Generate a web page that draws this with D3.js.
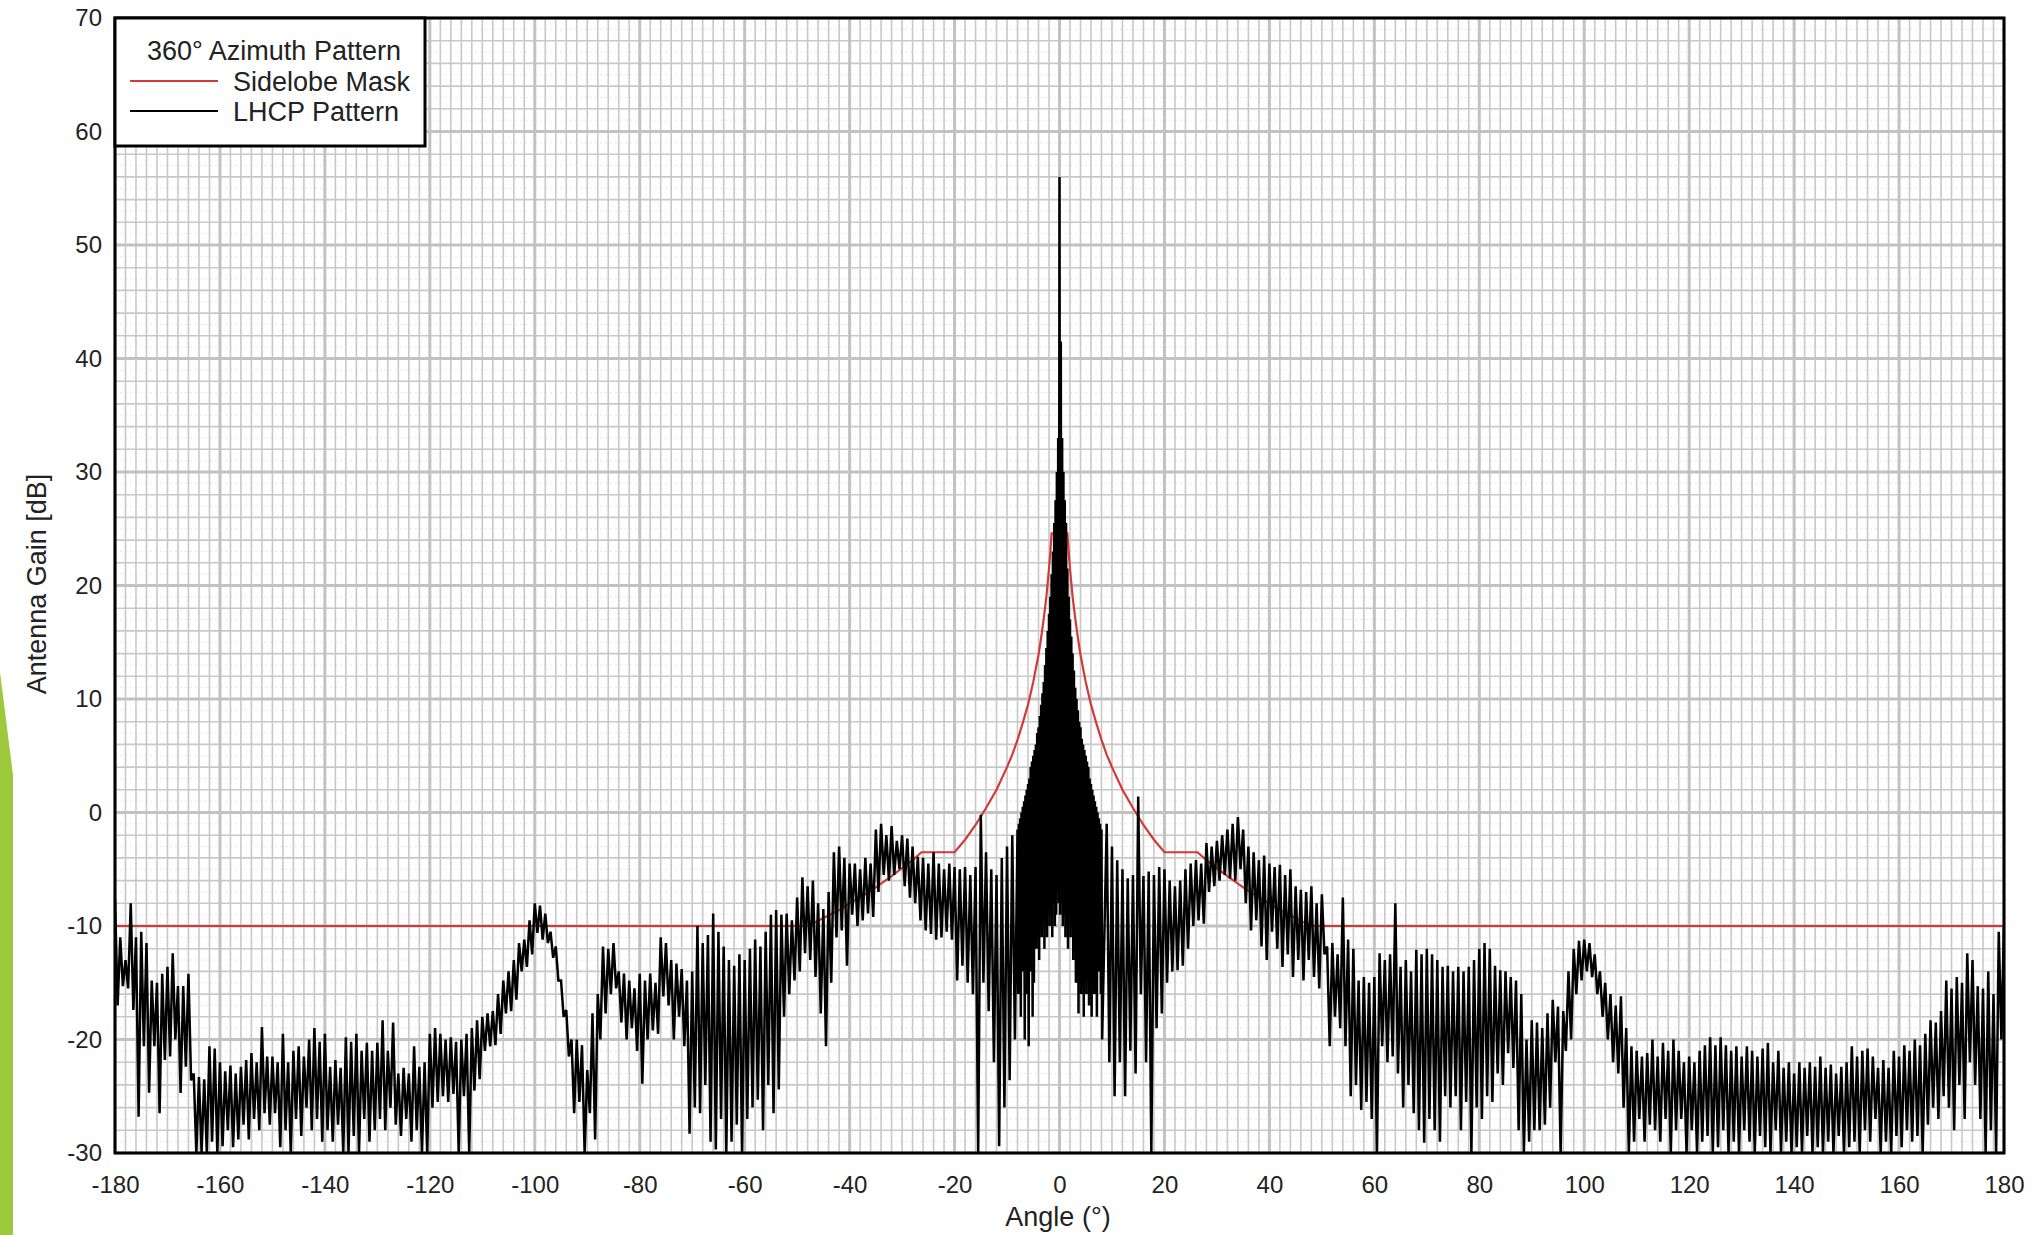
<!DOCTYPE html>
<html>
<head>
<meta charset="utf-8">
<script src="https://cdn.jsdelivr.net/npm/d3@7"></script>
<style>
  body { margin: 0; background: #fff; }
  svg { display: block; }
  text { font-family: "Liberation Sans", Arial, sans-serif; fill: #222; }
</style>
</head>
<body>
<script>
// axis ticks
const xTicks = d3.range(-180, 181, 20);
const yTicks = d3.range(-30, 71, 10);

// sidelobe mask
const maskAngle = [-180, -47.9, -45, -42, -40, -38, -35, -32, -30, -28, -26.3, -20, -18, -16, -14, -12, -10, -9, -8, -7, -6, -5, -4, -3.5, -3, -2.5, -2, -1.75, -1.5,
  1.5, 1.75, 2, 2.5, 3, 3.5, 4, 5, 6, 7, 8, 9, 10, 12, 14, 16, 18, 20, 26.3, 28, 30, 32, 35, 38, 40, 42, 45, 47.9, 180];
const maskGain = [-10, -10, -9.3, -8.6, -8.0, -7.5, -6.6, -5.6, -4.9, -4.2, -3.5, -3.5, -2.4, -1.1, 0.4, 2.0, 4.0, 5.1, 6.4, 7.9, 9.5, 11.5, 13.9, 15.4, 17.1, 19.0, 21.5, 22.9, 24.6,
  24.6, 22.9, 21.5, 19.0, 17.1, 15.4, 13.9, 11.5, 9.5, 7.9, 6.4, 5.1, 4.0, 2.0, 0.4, -1.1, -2.4, -3.5, -3.5, -4.2, -4.9, -5.6, -6.6, -7.5, -8.0, -8.6, -9.3, -10, -10];

// LHCP pattern: per 1 degree from -180 to 180, upper and lower extent of the trace
const lhcpStart = -180;
const lhcpHi = [
  -7.7, -11, -13, -8, -11, -10.5, -11.5, -14.8, -15, -14.2,
  -13.6, -12.4, -15.3, -15.3, -14.2, -23, -23.3, -23.5, -20.6, -20.8,
  -22, -22.8, -22.3, -23, -22.4, -21.8, -21.2, -22, -18.9, -21.5,
  -21.5, -22, -19.5, -22, -21, -20.6, -21.5, -20, -19, -20.2,
  -19.5, -22.4, -21.8, -22.5, -19.8, -20.2, -19.5, -21, -20.3, -21,
  -20.3, -18.3, -21, -18.5, -23, -22.5, -23, -20.6, -22.4, -22,
  -19.5, -19, -19.5, -20, -19.8, -20.2, -20, -19.5, -19, -18.3,
  -18, -17.7, -17.5, -16, -14.8, -14, -13, -11.5, -11.2, -9.5,
  -8, -8.2, -8.9, -10.5, -11.8, -14.8, -17.4, -20, -20, -20.5,
  -22.7, -17.7, -16, -11.8, -12, -11.5, -14, -14.2, -14.8, -15.5,
  -14.2, -14.8, -14.2, -15, -11, -11.5, -13, -13.3, -13.8, -14.8,
  -14, -10, -11.5, -10.8, -8.9, -10.5, -11.8, -13, -13.5, -12.5,
  -13, -12, -11.2, -11.8, -10.5, -9, -8.6, -9, -8.9, -9.5,
  -7.5, -5.7, -6.5, -6, -8, -8.5, -7, -3.5, -3, -4,
  -4.5, -4.5, -5, -4, -4.5, -1.5, -1, -2, -1.2, -2.5,
  -2, -2.3, -3, -3.9, -4, -4.5, -3.5, -4.5, -5, -4.5,
  -4.8, -5, -4.8, -5.5, -4.8, -0.2, -3.5, -5, -5.5, -4,
  -3, -2, -1.5, 0.5, 2.5, 5, 7.5, 11.5, 17.5, 27.5,
  56,
  27.5, 17.5, 11.5, 7.5, 5, 2.5, 0.5, -1, -1, -3,
  -4.2, -5, -5.8, -5.5, 1.4, -5.6, -5.2, -5.5, -4.8, -5,
  -6, -6.5, -6, -5, -4.5, -4.2, -4.5, -2.7, -3, -2.5,
  -2, -1.5, -1, -0.4, -1.5, -3, -3.5, -4.2, -3.8, -4.5,
  -4.8, -4.6, -5.5, -5, -6.5, -6.8, -7, -6.5, -8, -7.2,
  -11.8, -11.5, -12.5, -7.5, -11.2, -12, -14.8, -14.5, -15, -14.5,
  -12.4, -13, -12.5, -8, -13.6, -13, -14, -12.1, -12.5, -12,
  -12.5, -13, -13.6, -13.5, -14, -13.6, -14, -13.6, -13, -12,
  -11.5, -12, -13.5, -13.9, -14, -14.5, -14.8, -16, -20, -18.3,
  -18.5, -19, -17.7, -16.5, -17.1, -17.5, -14, -12, -11.3, -11.2,
  -11.5, -12.5, -14, -15, -16, -17, -16.2, -19, -20.6, -21,
  -21.5, -21.2, -20, -21.5, -20.3, -21, -20, -21, -22, -21.5,
  -22, -21, -20.5, -19.8, -20.5, -19.8, -20.5, -21, -20.6, -21.5,
  -20.6, -21, -21.5, -20.8, -20.3, -22, -21, -22.5, -22, -23,
  -22, -22.5, -22, -22.4, -21.5, -22.5, -22.2, -23, -22.4, -22,
  -20.6, -21.5, -21, -20.8, -21.5, -22.5, -21.8, -22.5, -21, -21.5,
  -20.5, -21, -20, -20.5, -19.5, -18.3, -18.5, -17.5, -14.8, -15.5,
  -14.5, -15, -12.4, -13, -15.3, -15.5, -14, -16, -10.5, -10
];
const lhcpLo = [
  -17, -15.3, -15.5, -17.4, -26.8, -20.6, -24.7, -20.6, -26.5, -21.8,
  -21.5, -20, -24.7, -22.4, -23.6, -30, -30, -30, -29, -30,
  -29.4, -28, -29.5, -28.8, -27.5, -28.8, -27, -28, -26.5, -27.5,
  -26.5, -29.5, -28, -30, -27, -28.5, -26, -28, -27, -29,
  -28, -29, -27.5, -30, -30, -28.5, -30, -27, -29, -28,
  -27, -28, -26, -27.5, -28.5, -27, -29, -28, -30, -30,
  -26, -25.5, -25, -25.5, -24.8, -30, -25, -30, -24.5, -23.5,
  -21, -20.6, -20.5, -19.5, -17.7, -17.5, -16.5, -14, -13.6, -12.5,
  -10.6, -11.2, -11.5, -12.8, -14.8, -18, -21.5, -26.5, -25.5, -30,
  -26.5, -28.8, -20, -17.7, -16, -15.5, -18.5, -20, -19, -21,
  -23.9, -20, -19.2, -19.5, -16.2, -17, -20, -18, -20.6, -28.3,
  -26, -26.5, -24, -29, -29.7, -27, -30, -29, -27.5, -30,
  -27, -26, -25.3, -28, -24, -26.5, -24.4, -18, -16, -14.8,
  -14, -12.4, -13, -14.5, -17.7, -20.6, -15, -11, -10.4, -13.5,
  -9, -10, -9.5, -8.9, -9.2, -7, -5.5, -6, -5.5, -5,
  -6.5, -7.5, -8, -9.5, -10.4, -10.7, -11.2, -11, -10.5, -11.2,
  -14.8, -13.5, -15, -16, -30, -15, -17.5, -22, -29.4, -26,
  -23.6, -20, -16.2, -17, -20.6, -15, -10, -9, -10, -9,
  -9,
  -9, -10, -11, -12, -15, -17.7, -18, -20, -22, -25,
  -22, -25, -21, -23, -16, -22, -30, -19, -17.7, -15,
  -14, -13.9, -13.5, -12, -10, -9.5, -9.8, -7, -6.5, -6,
  -5.5, -5.8, -6, -5, -8, -10.4, -9.5, -11.8, -13, -10.5,
  -12, -13.6, -12.5, -14.5, -13, -14.8, -13, -14.5, -15.5, -12.5,
  -20.6, -18, -19, -20.6, -25, -24, -26.2, -25.5, -27, -30,
  -20.6, -22, -21.5, -23, -26, -24, -26.5, -28, -29.1, -27,
  -28, -29, -25, -26, -25, -28, -25.5, -30, -26, -27,
  -25, -25.5, -23, -24, -21.2, -22.5, -28, -30, -29, -28,
  -28, -27.5, -26, -22, -30, -21, -20, -16, -14.8, -14,
  -14.5, -16, -18, -20, -22, -23, -26, -30, -29, -27,
  -29, -27.5, -28, -29, -27, -30, -28, -27, -30, -28,
  -30, -29, -28.5, -30, -29.5, -28, -30, -29, -30, -28,
  -29, -30, -28.5, -29.5, -30, -28, -30, -29, -30, -29.5,
  -30, -28.5, -30, -29.5, -30, -29, -30, -28.5, -30, -29.5,
  -29, -30, -28, -29, -27, -30, -29, -30, -28.5, -29.5,
  -28, -29, -28.5, -30, -27.5, -26, -27, -25, -26, -28,
  -24, -27, -22, -24, -27, -30, -28, -30, -20, -16
];

// main lobe, finer: every 0.25 degree from -8 to 8
const lobeStart = -8;
const lobeStep = 0.25;
const lobeHi = [
  -1.5, -1, -0.5, 0, 0.5, 1, 1.5, 2, 2.5, 3,
  4, 4.5, 5, 5.5, 6, 7, 7.5, 8.5, 9.5, 10.5,
  11.5, 13, 14.5, 16, 17.5, 19, 21, 23, 25.5, 27.5,
  30, 33,
  56,
  41.5, 33, 30, 27.5, 25.5, 21.5, 19, 17, 15.5, 14,
  12.5, 11, 10, 9, 8, 7.5, 6.5, 6, 5.5, 5,
  4.5, 4, 3, 2.5, 2, 1.5, 1, 0.5, 0, -0.5,
  -1, -1.5
];
const lobeLo = [
  -16, -12, -18, -10, -14, -20, -12, -16, -20.6, -14,
  -11, -18, -15, -9, -12, -10, -13, -9, -11, -8,
  -12, -9, -11, -8, -10, -9, -11, -8, -10, -9,
  -7, -8,
  -9,
  -8, -10, -9, -11, -10, -12, -9, -11, -10, -13,
  -11, -15, -10, -17.7, -13, -16, -12, -18, -14, -16,
  -12, -17, -13, -18, -14, -16, -12, -18, -14, -10,
  -16, -20
];

const W = 2033, H = 1235;
const plot = { left: 115, right: 2004, top: 18, bottom: 1153 };

const svg = d3.select('body')
  .append('svg')
  .attr('width', W)
  .attr('height', H);

svg.append('rect').attr('width', W).attr('height', H).attr('fill', '#fff');

// green slide decoration on the left edge
svg.append('polygon')
  .attr('points', '0,672 13,775 13,1235 0,1235')
  .attr('fill', '#9cca3c');

const x = d3.scaleLinear().domain([-180, 180]).range([plot.left, plot.right]);
const y = d3.scaleLinear().domain([-30, 70]).range([plot.bottom, plot.top]);

// grid
const grid = svg.append('g');
const faint = d3.range(-29, 70, 2);
grid.selectAll('line.fh').data(faint).enter().append('line')
  .attr('x1', plot.left).attr('x2', plot.right)
  .attr('y1', d => y(d)).attr('y2', d => y(d))
  .attr('stroke', '#e6e6e6').attr('stroke-width', 1)
  .attr('stroke-dasharray', '2,3');

const vMinor = d3.range(-180, 181, 2).filter(d => d % 20 !== 0);
const vMajor = d3.range(-180, 181, 20);
const hMinor = d3.range(-30, 71, 2).filter(d => d % 10 !== 0);
const hMajor = d3.range(-30, 71, 10);

grid.selectAll('line.vm').data(vMinor).enter().append('line')
  .attr('x1', d => x(d)).attr('x2', d => x(d))
  .attr('y1', plot.top).attr('y2', plot.bottom)
  .attr('stroke', '#c8c8c8').attr('stroke-width', 1.6);
grid.selectAll('line.hm').data(hMinor).enter().append('line')
  .attr('x1', plot.left).attr('x2', plot.right)
  .attr('y1', d => y(d)).attr('y2', d => y(d))
  .attr('stroke', '#c8c8c8').attr('stroke-width', 1.6);
grid.selectAll('line.vM').data(vMajor).enter().append('line')
  .attr('x1', d => x(d)).attr('x2', d => x(d))
  .attr('y1', plot.top).attr('y2', plot.bottom)
  .attr('stroke', '#c2c2c2').attr('stroke-width', 3);
grid.selectAll('line.hM').data(hMajor).enter().append('line')
  .attr('x1', plot.left).attr('x2', plot.right)
  .attr('y1', d => y(d)).attr('y2', d => y(d))
  .attr('stroke', '#c2c2c2').attr('stroke-width', 3);

// clip for the traces
svg.append('clipPath').attr('id', 'plotclip')
  .append('rect')
  .attr('x', plot.left).attr('y', plot.top)
  .attr('width', plot.right - plot.left).attr('height', plot.bottom - plot.top);

const traces = svg.append('g').attr('clip-path', 'url(#plotclip)');

// mask
const maskData = maskAngle.map((a, i) => [a, maskGain[i]]);
const line = d3.line().x(d => x(d[0])).y(d => y(d[1]));
traces.append('path')
  .datum(maskData)
  .attr('d', line)
  .attr('fill', 'none')
  .attr('stroke', '#d23a3a')
  .attr('stroke-width', 2.2);

// LHCP trace: zig-zag between the upper and lower extent of each step
const pts = [];
lhcpHi.forEach((h, i) => {
  const a = lhcpStart + i;
  if (Math.abs(a) <= 8) return;
  pts.push([a, h]);
  pts.push([a + 0.5, lhcpLo[i]]);
});
lobeHi.forEach((h, i) => {
  const a = lobeStart + i * lobeStep;
  pts.push([a, h]);
  pts.push([a + lobeStep / 2, lobeLo[i]]);
});
pts.sort((p, q) => p[0] - q[0]);

traces.append('path')
  .datum(pts)
  .attr('d', line)
  .attr('fill', 'none')
  .attr('stroke', '#000')
  .attr('stroke-width', 2.5)
  .attr('stroke-linejoin', 'miter')
  .attr('stroke-miterlimit', 2);

// frame
svg.append('rect')
  .attr('x', plot.left).attr('y', plot.top)
  .attr('width', plot.right - plot.left).attr('height', plot.bottom - plot.top)
  .attr('fill', 'none').attr('stroke', '#000').attr('stroke-width', 3);

// axes
const xAxis = svg.append('g')
  .attr('transform', `translate(0, ${plot.bottom})`)
  .call(d3.axisBottom(x).tickValues(xTicks).tickFormat(d => String(d)).tickSize(0).tickPadding(23));
const yAxis = svg.append('g')
  .attr('transform', `translate(${plot.left}, 0)`)
  .call(d3.axisLeft(y).tickValues(yTicks).tickFormat(d => String(d)).tickSize(0).tickPadding(13));
[xAxis, yAxis].forEach(g => {
  g.select('.domain').remove();
  g.attr('font-size', 24).attr('font-family', '"Liberation Sans", Arial, sans-serif');
  g.selectAll('text').attr('fill', '#222');
});

svg.append('text')
  .attr('x', 1058).attr('y', 1226)
  .attr('text-anchor', 'middle')
  .attr('font-size', 27)
  .text('Angle (°)');

svg.append('text')
  .attr('transform', 'translate(46, 584) rotate(-90)')
  .attr('text-anchor', 'middle')
  .attr('font-size', 27)
  .text('Antenna Gain [dB]');

// legend
const lg = svg.append('g');
lg.append('rect')
  .attr('x', plot.left).attr('y', plot.top)
  .attr('width', 310).attr('height', 128)
  .attr('fill', '#fff').attr('stroke', '#000').attr('stroke-width', 3);
lg.append('text').attr('x', 147).attr('y', 60).attr('font-size', 27).text('360° Azimuth Pattern');
const legendItems = [
  { name: 'Sidelobe Mask', color: '#d23a3a', y: 81 },
  { name: 'LHCP Pattern', color: '#000', y: 111 }
];
legendItems.forEach(d => {
  lg.append('line')
    .attr('x1', 130).attr('x2', 218)
    .attr('y1', d.y).attr('y2', d.y)
    .attr('stroke', d.color).attr('stroke-width', 2);
  lg.append('text')
    .attr('x', 233).attr('y', d.y + 10)
    .attr('font-size', 27)
    .text(d.name);
});
</script>
</body>
</html>
